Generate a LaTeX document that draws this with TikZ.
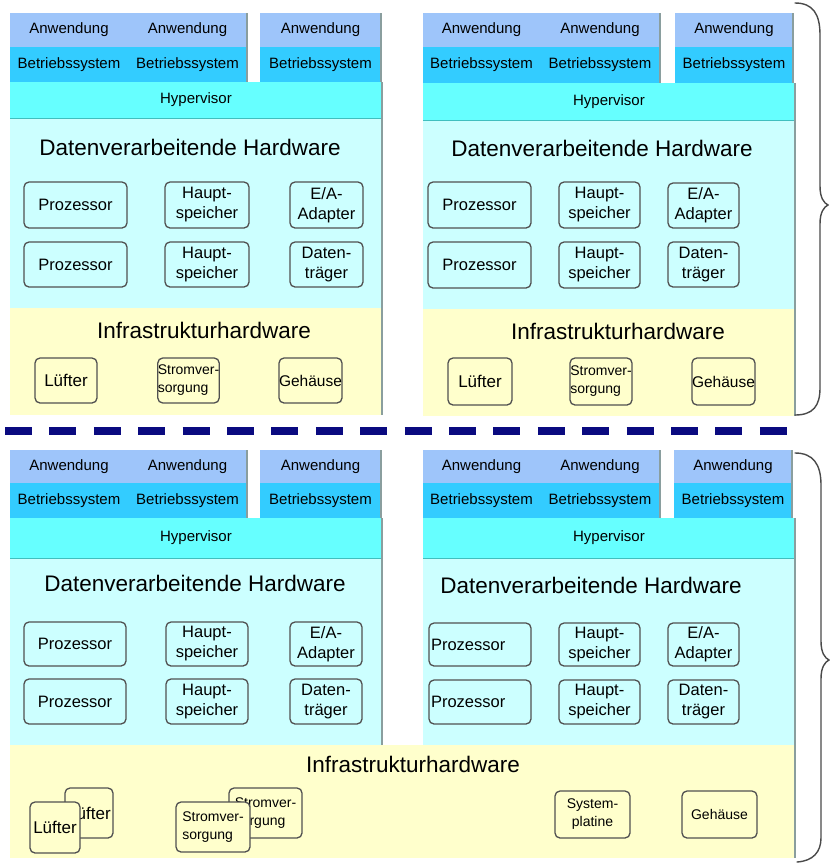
\documentclass[tikz,border=0pt]{standalone}
\usepackage{fontspec}
\setmainfont{Liberation Sans}
\definecolor{appblue}{HTML}{9EC5FA}
\definecolor{osblue}{HTML}{33CCFF}
\definecolor{osinner}{HTML}{4CC5F6}
\definecolor{hypcyan}{HTML}{66FFFF}
\definecolor{dvcyan}{HTML}{CCFFFF}
\definecolor{infyellow}{HTML}{FFFFCC}
\definecolor{boxgray}{HTML}{505050}
\definecolor{edgegray}{HTML}{8A9E9E}
\definecolor{hypedge}{HTML}{40BFBF}
\definecolor{sepblue}{HTML}{0A0A80}
\definecolor{bracegray}{HTML}{4A4A4A}
% rectangular block given by its corners: name, x1, y1, x2, y2, style, text
\newcommand\rblock[7]{%
  \node[#6, minimum width={(#4-#2)*1pt}, minimum height={(#5-#3)*1pt}]
    (#1) at ({(#2+#4)/2},{(#3+#5)/2}) {#7};}
\tikzset{
  layer/.style={draw=none, inner sep=0pt, outer sep=0pt},
  appl/.style={layer, fill=appblue, font=\fontsize{15}{18}\selectfont},
  osl/.style={layer, fill=osblue, font=\fontsize{15}{18}\selectfont},
  hypl/.style={layer, fill=hypcyan, font=\fontsize{15}{18}\selectfont},
  dvl/.style={layer, fill=dvcyan},
  infl/.style={layer, fill=infyellow},
  heading/.style={inner sep=0pt, font=\fontsize{22.5}{26}\selectfont},
  hwbox/.style={draw=boxgray, line width=1.3pt, rounded corners=5pt, inner sep=1pt,
    outer sep=0pt, align=center, fill=dvcyan, font=\fontsize{16.5}{20}\selectfont},
  infbox/.style={hwbox, fill=infyellow, font=\fontsize{14}{18}\selectfont},
  rightedge/.style={draw=edgegray, line width=1.2pt},
  hypbottom/.style={draw=hypedge, line width=1pt},
  bracel/.style={draw=bracegray, line width=1.4pt, line cap=round},
  separator/.style={draw=sepblue, line width=8pt, dash pattern=on 27pt off 17.4pt}
}
\begin{document}
\begin{tikzpicture}[x=1pt, y=-1pt]
\useasboundingbox (0,0) rectangle (830,863);

% ---------- upper left server ----------
\rblock{tlA1}{10}{13}{128}{47}{appl}{Anwendung}
\rblock{tlA2}{128}{13}{247}{47}{appl}{Anwendung}
\rblock{tlA3}{260}{13}{381}{47}{appl}{Anwendung}
\rblock{tlO1}{10}{47}{128}{82}{osl}{Betriebssystem}
\rblock{tlO2}{128}{47}{247}{82}{osl}{Betriebssystem}
\rblock{tlO3}{260}{47}{381}{82}{osl}{Betriebssystem}
\rblock{tlH}{10}{82}{382}{118}{hypl}{Hypervisor}
\rblock{tlD}{10}{118}{382}{308}{dvl}{}
\rblock{tlI}{10}{308}{382}{415}{infl}{}
\draw[hypbottom] (tlH.south west) -- (tlH.south east);
\draw[rightedge] (tlA2.north east) -- (tlO2.south east);
\draw[rightedge] (tlA3.north east) -- (tlO3.south east);
\draw[rightedge] (tlH.north east) -- (tlI.south east);
\node[heading] (tlDt) at (190,147) {Datenverarbeitende Hardware};
\node[heading] (tlIt) at (204,330) {Infrastrukturhardware};
\rblock{tlP1}{24}{182}{127}{228}{hwbox}{Prozessor}
\rblock{tlP2}{24}{242}{127}{287}{hwbox}{Prozessor}
\rblock{tlS1}{165}{182}{249}{228}{hwbox}{Haupt-\\speicher}
\rblock{tlS2}{165}{242}{249}{287}{hwbox}{Haupt-\\speicher}
\rblock{tlE}{290}{182}{363}{228}{hwbox}{E/A-\\Adapter}
\rblock{tlT}{290}{242}{363}{287}{hwbox}{Daten-\\träger}
\rblock{tlL}{35}{358}{97}{403}{infbox, font=\fontsize{17}{20}\selectfont}{Lüfter}
\rblock{tlV}{158}{358}{219}{403}{infbox, align=left, inner sep=0pt}{Stromver-\\sorgung}
\rblock{tlG}{279}{358}{342}{403}{infbox, font=\fontsize{15.5}{18}\selectfont, inner sep=0pt}{Gehäuse}

% ---------- upper right server ----------
\rblock{trA1}{423}{13}{540}{47}{appl}{Anwendung}
\rblock{trA2}{540}{13}{660}{47}{appl}{Anwendung}
\rblock{trA3}{675}{13}{793}{47}{appl}{Anwendung}
\rblock{trO1}{423}{47}{540}{83}{osl}{Betriebssystem}
\rblock{trO2}{540}{47}{660}{83}{osl}{Betriebssystem}
\rblock{trO3}{675}{47}{793}{83}{osl}{Betriebssystem}
\rblock{trH}{423}{83}{795}{120}{hypl}{Hypervisor}
\rblock{trD}{423}{120}{795}{309}{dvl}{}
\rblock{trI}{423}{309}{795}{416}{infl}{}
\draw[hypbottom] (trH.south west) -- (trH.south east);
\draw[rightedge] (trA2.north east) -- (trO2.south east);
\draw[rightedge] (trA3.north east) -- (trO3.south east);
\draw[rightedge] (trH.north east) -- (trI.south east);
\node[heading] (trDt) at (602,148) {Datenverarbeitende Hardware};
\node[heading] (trIt) at (618,331) {Infrastrukturhardware};
\rblock{trP1}{428}{182}{531}{228}{hwbox}{Prozessor}
\rblock{trP2}{428}{242}{531}{288}{hwbox}{Prozessor}
\rblock{trS1}{559}{182}{640}{228}{hwbox}{Haupt-\\speicher}
\rblock{trS2}{559}{242}{640}{288}{hwbox}{Haupt-\\speicher}
\rblock{trE}{668}{183}{739}{228}{hwbox}{E/A-\\Adapter}
\rblock{trT}{668}{242}{739}{287}{hwbox}{Daten-\\träger}
\rblock{trL}{448}{358}{512}{405}{infbox, font=\fontsize{17}{20}\selectfont}{Lüfter}
\rblock{trV}{570}{358}{632}{405}{infbox, align=left, inner sep=0pt}{Stromver-\\sorgung}
\rblock{trG}{692}{358}{755}{405}{infbox, font=\fontsize{15.5}{18}\selectfont, inner sep=0pt}{Gehäuse}

% brace grouping the upper servers
\draw[bracel] (795,3) .. controls (813,3) and (820,14) .. (820,35)
  -- (820,186) .. controls (820,198) and (824,203) .. (828,205)
  .. controls (824,207) and (820,212) .. (820,224)
  -- (820,388) .. controls (820,406) and (813,415) .. (795,415);

% ---------- dashed separator ----------
\coordinate (sepL) at (5,431);
\coordinate (sepR) at (787,431);
\draw[separator] (sepL) -- (sepR);

% ---------- lower left server ----------
\rblock{blA1}{10}{450}{128}{483}{appl}{Anwendung}
\rblock{blA2}{128}{450}{247}{483}{appl}{Anwendung}
\rblock{blA3}{260}{450}{381}{483}{appl}{Anwendung}
\rblock{blO1}{10}{483}{128}{518}{osl}{Betriebssystem}
\rblock{blO2}{128}{483}{247}{518}{osl}{Betriebssystem}
\rblock{blO3}{260}{483}{381}{518}{osl}{Betriebssystem}
\rblock{blH}{10}{518}{382}{558}{hypl}{Hypervisor}
\rblock{blD}{10}{558}{382}{745}{dvl}{}

% ---------- lower right server ----------
\rblock{brA1}{423}{450}{540}{483}{appl}{Anwendung}
\rblock{brA2}{540}{450}{660}{483}{appl}{Anwendung}
\rblock{brA3}{674}{450}{792}{483}{appl}{Anwendung}
\rblock{brO1}{423}{483}{540}{518}{osl}{Betriebssystem}
\rblock{brO2}{540}{483}{660}{518}{osl}{Betriebssystem}
\rblock{brO3}{674}{483}{792}{518}{osl}{Betriebssystem}
\rblock{brH}{423}{518}{795}{558}{hypl}{Hypervisor}
\rblock{brD}{423}{558}{795}{745}{dvl}{}

% shared infrastructure of the lower pair
\rblock{bI}{10}{745}{795}{858}{infl}{}

\draw[hypbottom] (blH.south west) -- (blH.south east);
\draw[hypbottom] (brH.south west) -- (brH.south east);
\draw[rightedge] (blA2.north east) -- (blO2.south east);
\draw[rightedge] (blA3.north east) -- (blO3.south east);
\draw[rightedge] (blH.north east) -- (blD.south east);
\draw[rightedge] (brA2.north east) -- (brO2.south east);
\draw[rightedge] (brA3.north east) -- (brO3.south east);
\draw[rightedge] (brH.north east) -- (bI.south east);

\node[heading] (blDt) at (195,583) {Datenverarbeitende Hardware};
\rblock{blP1}{24}{622}{126}{666}{hwbox}{Prozessor}
\rblock{blP2}{24}{679}{126}{724}{hwbox}{Prozessor}
\rblock{blS1}{166}{622}{248}{666}{hwbox}{Haupt-\\speicher}
\rblock{blS2}{166}{679}{248}{724}{hwbox}{Haupt-\\speicher}
\rblock{blE}{290}{622}{362}{666}{hwbox}{E/A-\\Adapter}
\rblock{blT}{290}{679}{362}{724}{hwbox}{Daten-\\träger}

\node[heading] (brDt) at (591,585) {Datenverarbeitende Hardware};
\rblock{brP1}{429}{623}{531}{666}{hwbox}{\makebox[98pt][l]{Prozessor}}
\rblock{brP2}{429}{680}{531}{724}{hwbox}{\makebox[98pt][l]{Prozessor}}
\rblock{brS1}{559}{623}{640}{666}{hwbox}{Haupt-\\speicher}
\rblock{brS2}{559}{680}{640}{724}{hwbox}{Haupt-\\speicher}
\rblock{brE}{668}{623}{739}{666}{hwbox}{E/A-\\Adapter}
\rblock{brT}{668}{680}{739}{724}{hwbox}{Daten-\\träger}

\node[heading] (bIt) at (413,764) {Infrastrukturhardware};
% stacked fans and power supplies: back copy first, front copy over it
\rblock{blL2}{65}{788}{113}{838}{infbox, font=\fontsize{17}{20}\selectfont, inner sep=0pt}{Lüfter}
\rblock{blL1}{30}{802}{80}{853}{infbox, font=\fontsize{17}{20}\selectfont, inner sep=0pt}{Lüfter}
\rblock{blV2}{229}{788}{302}{838}{infbox, align=left, inner sep=0pt}{Stromver-\\sorgung}
\rblock{blV1}{176}{802}{250}{852}{infbox, align=left, inner sep=0pt}{Stromver-\\sorgung}
\rblock{brY}{555}{791}{630}{838}{infbox}{System-\\platine}
\rblock{brG}{682}{791}{757}{838}{infbox}{Gehäuse}

% brace grouping the lower servers
\draw[bracel] (795,453) .. controls (813,453) and (821,464) .. (821,485)
  -- (821,641) .. controls (821,653) and (825,658) .. (829,660)
  .. controls (825,662) and (821,667) .. (821,679)
  -- (821,838) .. controls (821,852) and (813,861) .. (797,862);
\end{tikzpicture}
\end{document}
